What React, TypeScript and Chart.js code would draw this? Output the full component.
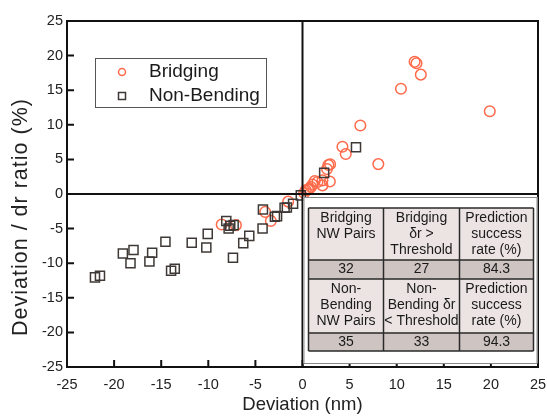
import React, { useEffect, useRef } from "react";
import { Chart, registerables } from "chart.js";

Chart.register(...registerables);

const bridgingX = [11.9, 12.1, 12.56, 10.45, 19.88, 6.14, 4.24, 4.59, 8.05, 2.75, 2.93, 2.6, 2.9, 2.12, 2.12, 1.59, 1.3, 1.06, 0.7, 0.35, 0.6, 0.17, 0.9, -8.58, -7.07, -3.96, -3.36, -1.52];
const bridgingY = [19.1, 18.9, 17.25, 15.2, 11.96, 9.9, 6.83, 5.77, 4.32, 4.2, 4.3, 3.6, 1.8, 1.97, 1.25, 1.73, 1.87, 1.35, 0.78, 0.53, 0.63, 0.14, 1.0, -4.41, -4.5, -2.59, -3.89, -1.1];

const nonBendingX = [-22.03, -21.5, -19.07, -17.94, -18.26, -15.96, -16.25, -14.55, -13.95, -13.56, -11.76, -10.06, -10.21, -8.09, -7.84, -7.67, -7.31, -7.38, -6.29, -5.65, -4.2, -4.24, -2.93, -2.7, -1.9, -1.66, -1.0, -0.18, 2.3, 5.68];
const nonBendingY = [-12.05, -11.8, -8.6, -8.1, -10.0, -8.5, -9.75, -6.9, -11.1, -10.8, -7.05, -5.76, -7.73, -3.89, -4.99, -4.6, -4.5, -9.2, -7.1, -6.05, -2.25, -4.99, -3.3, -3.2, -2.0, -1.95, -1.4, -0.2, 3.05, 6.77];

const seriesNames = ["Bridging", "Non-Bending"];
const xTitle = "Deviation (nm)";
const yTitle = "Deviation / dr ratio (%)";

const tableHeader1 = [["Bridging", "NW Pairs"], ["Bridging", "δr >", "Threshold"], ["Prediction", "success", "rate (%)"]];
const tableValues1 = ["32", "27", "84.3"];
const tableHeader2 = [["Non-", "Bending", "NW Pairs"], ["Non-", "Bending δr", "< Threshold"], ["Prediction", "success", "rate (%)"]];
const tableValues2 = ["35", "33", "94.3"];

const FONT = "'Liberation Sans', Arial, Helvetica, sans-serif";
const ORANGE = "#ff6a4a";
const DARK = "#3e3936";

export default function App() {
  const ref = useRef<HTMLCanvasElement>(null);
  useEffect(() => {
    document.body.style.margin = "0";
    const canvas = ref.current!;
    const decor = {
      id: "decor",
      afterDatasetsDraw(chart: any) {
        const { ctx, chartArea: a, scales } = chart;
        const xs = scales.x, ys = scales.y;
        ctx.save();
        // zero lines
        ctx.strokeStyle = "#111";
        ctx.lineWidth = 2;
        const x0 = xs.getPixelForValue(0), y0 = ys.getPixelForValue(0);
        ctx.beginPath();
        ctx.moveTo(x0, a.top); ctx.lineTo(x0, a.bottom);
        ctx.moveTo(a.left, y0); ctx.lineTo(a.right, y0);
        ctx.stroke();
        // frame
        ctx.strokeRect(a.left, a.top, a.right - a.left, a.bottom - a.top);
        // inward ticks
        ctx.beginPath();
        for (let v = -25; v <= 25; v += 5) {
          const px = xs.getPixelForValue(v);
          ctx.moveTo(px, a.bottom); ctx.lineTo(px, a.bottom - 7);
          const py = ys.getPixelForValue(v);
          ctx.moveTo(a.left, py); ctx.lineTo(a.left + 7, py);
        }
        ctx.stroke();

        // y axis title
        ctx.save();
        ctx.translate(21, 217);
        ctx.rotate(-Math.PI / 2);
        ctx.font = `21.5px ${FONT}`;
        (ctx as any).letterSpacing = "1px";
        ctx.fillStyle = "#222";
        ctx.textAlign = "center";
        ctx.textBaseline = "middle";
        ctx.fillText(yTitle, 0, 0);
        ctx.restore();

        // legend
        const lx = a.left + 28, ly = a.top + 37;
        ctx.fillStyle = "#fff";
        ctx.fillRect(lx, ly, 171, 49);
        ctx.strokeStyle = "#555";
        ctx.lineWidth = 1;
        ctx.strokeRect(lx + 0.5, ly + 0.5, 171, 49);
        ctx.lineWidth = 1.5;
        ctx.strokeStyle = ORANGE;
        ctx.beginPath();
        ctx.arc(lx + 27, ly + 14, 3.5, 0, Math.PI * 2);
        ctx.stroke();
        ctx.strokeStyle = DARK;
        ctx.strokeRect(lx + 23.5, ly + 34.5, 7, 7);
        ctx.fillStyle = "#1a1a1a";
        ctx.font = `19px ${FONT}`;
        ctx.textBaseline = "middle";
        ctx.textAlign = "left";
        ctx.fillText(seriesNames[0], lx + 54, ly + 14);
        ctx.fillText(seriesNames[1], lx + 54, ly + 38);

        // table
        const tx = x0 + 1, ty = y0 + 3;
        ctx.fillStyle = "#fff";
        ctx.fillRect(tx, ty, 234, 166);
        ctx.strokeStyle = "#8a8a8a";
        ctx.lineWidth = 1;
        ctx.strokeRect(tx + 0.5, ty + 0.5, 233, 166);
        const cols = [x0 + 6, x0 + 81, x0 + 157, x0 + 231];
        const rows = [ty + 11, ty + 63, ty + 82, ty + 136, ty + 154];
        const hdrFill = "#ece4e2", valFill = "#cec4c2";
        const fills = [hdrFill, valFill, hdrFill, valFill];
        for (let r = 0; r < 4; r++) {
          ctx.fillStyle = fills[r];
          ctx.fillRect(cols[0], rows[r], cols[3] - cols[0], rows[r + 1] - rows[r]);
        }
        ctx.strokeStyle = "#2a2a2a";
        ctx.lineWidth = 1.5;
        ctx.beginPath();
        for (const c of cols) { ctx.moveTo(c, rows[0]); ctx.lineTo(c, rows[4]); }
        for (const r of rows) { ctx.moveTo(cols[0], r); ctx.lineTo(cols[3], r); }
        ctx.stroke();
        ctx.fillStyle = "#1a1a1a";
        ctx.font = `14px ${FONT}`;
        ctx.textAlign = "center";
        ctx.textBaseline = "middle";
        const drawRow = (lines: string[][], top: number) => {
          lines.forEach((ls, i) => {
            const cx = (cols[i] + cols[i + 1]) / 2;
            ls.forEach((t, j) => ctx.fillText(t, cx, top + 10 + j * 16));
          });
        };
        drawRow(tableHeader1, rows[0]);
        drawRow(tableValues1.map((v) => [v]), rows[1] - 1);
        drawRow(tableHeader2, rows[2]);
        drawRow(tableValues2.map((v) => [v]), rows[3] - 1);
        ctx.restore();
      },
    };

    const chart = new Chart(canvas, {
      type: "scatter",
      data: {
        datasets: [
          {
            label: seriesNames[0],
            data: bridgingX.map((x, i) => ({ x, y: bridgingY[i] })),
            pointStyle: "circle",
            pointRadius: 5.3,
            borderWidth: 1.5,
            borderColor: ORANGE,
            backgroundColor: "rgba(255,255,255,0)",
            order: 2,
          },
          {
            label: seriesNames[1],
            data: nonBendingX.map((x, i) => ({ x, y: nonBendingY[i] })),
            pointStyle: "rect",
            pointRadius: 6.4,
            borderWidth: 1.5,
            borderColor: DARK,
            backgroundColor: "rgba(255,255,255,0)",
            order: 1,
          },
        ],
      },
      options: {
        responsive: false,
        animation: false,
        layout: { padding: { top: 21, right: 9, left: 0, bottom: 0 } },
        plugins: { legend: { display: false }, tooltip: { enabled: false } },
        scales: {
          x: {
            type: "linear",
            min: -25,
            max: 25,
            grid: { display: false, drawTicks: false },
            border: { display: false },
            ticks: { stepSize: 5, padding: 9, color: "#222", font: { family: FONT, size: 14.5 }, maxRotation: 0 },
            title: { display: true, text: xTitle, color: "#222", font: { family: FONT, size: 18.5 }, padding: { top: 0, bottom: 2 } },
            afterFit: (s: any) => { s.height = 51; s.paddingLeft = 0; s.paddingRight = 0; },
          },
          y: {
            type: "linear",
            min: -25,
            max: 25,
            grid: { display: false, drawTicks: false },
            border: { display: false },
            ticks: { stepSize: 5, padding: 4, color: "#222", font: { family: FONT, size: 14.5 } },
            title: { display: false, text: yTitle },
            afterFit: (s: any) => { s.width = 67; s.paddingTop = 0; s.paddingBottom = 0; },
          },
        },
      },
      plugins: [decor],
    });
    return () => chart.destroy();
  }, []);
  return <canvas ref={ref} width={547} height={418} style={{ display: "block" }} />;
}
